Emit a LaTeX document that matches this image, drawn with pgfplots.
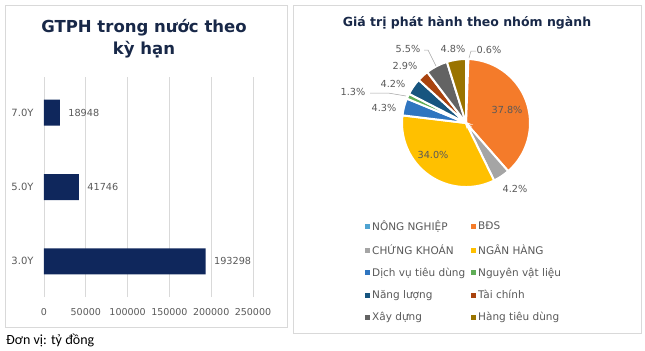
\documentclass[border=0pt]{standalone}
\usepackage{pgfplots}
\pgfplotsset{compat=1.18}
\usepackage{fontspec}
\setmainfont{DejaVu Sans}
\newfontfamily\carlito{Carlito}
\definecolor{titlec}{RGB}{24,40,72}
\definecolor{barc}{RGB}{15,39,92}
\definecolor{txtgray}{RGB}{89,89,89}
\definecolor{gridc}{RGB}{217,217,217}
\definecolor{cNN}{RGB}{79,163,209}
\definecolor{cBDS}{RGB}{244,123,42}
\definecolor{cCK}{RGB}{165,165,165}
\definecolor{cNH}{RGB}{255,192,0}
\definecolor{cDV}{RGB}{47,117,192}
\definecolor{cNVL}{RGB}{95,173,86}
\definecolor{cNL}{RGB}{23,85,127}
\definecolor{cTC}{RGB}{169,67,14}
\definecolor{cXD}{RGB}{99,99,99}
\definecolor{cHTD}{RGB}{154,116,0}
\begin{document}
\begin{tikzpicture}
\path[use as bounding box] (0,0) rectangle (645bp,-351bp);
\draw[gridc, line width=0.8bp] (5bp,-5bp) rectangle (287bp,-327bp);
\draw[gridc, line width=0.8bp] (293bp,-5bp) rectangle (641bp,-333bp);
\node[font=\bfseries\fontsize{16.5bp}{22bp}\selectfont, text=titlec, align=center] at (144bp,-39bp) {GTPH trong nước theo\\kỳ hạn};
\node[font=\carlito\fontsize{14bp}{16bp}\selectfont, anchor=west, inner sep=0pt] at (6bp,-340bp) {Đơn vị: tỷ đồng};
\node[font=\bfseries\fontsize{12.5bp}{15bp}\selectfont, text=titlec] at (467bp,-23bp) {Giá trị phát hành theo nhóm ngành};

\begin{axis}[
  at={(44bp,-297bp)}, anchor=south west, scale only axis,
  width=209bp, height=220bp,
  xbar, bar width=26bp,
  xmin=0, xmax=250000, ymin=-0.48, ymax=2.48,
  xtick={0,50000,100000,150000,200000,250000},
  ytick={0,1,2}, yticklabels={3.0Y,5.0Y,7.0Y},
  scaled x ticks=false,
  /pgf/number format/fixed, /pgf/number format/1000 sep={},
  /pgf/number format/assume math mode=true,
  xmajorgrids, grid style={gridc, line width=0.8bp},
  axis line style={draw=none}, major tick length=0pt,
  tick label style={text=txtgray, font=\fontsize{9.5bp}{11bp}\selectfont},
  xticklabel style={yshift=-8bp},
  yticklabel style={xshift=-7bp, font=\fontsize{10bp}{11bp}\selectfont},
  nodes near coords,
  nodes near coords style={text=txtgray, font=\fontsize{9.7bp}{11bp}\selectfont, xshift=5bp},
  point meta=x,
]
\addplot[fill=barc, draw=none] coordinates {(193298,0) (41746,1) (18948,2)};
\end{axis}

\begin{axis}[
  at={(293bp,-333bp)}, anchor=south west, x=1bp, y=1bp,
  xmin=-173, xmax=175, ymin=-210, ymax=118,
  hide axis, clip=false,
  legend columns=2,
  legend style={at={(axis cs:-101,-96)}, anchor=north west, draw=none, fill=none,
    font=\fontsize{10.5bp}{12bp}\selectfont, text=txtgray, row sep=8.2bp,
    inner sep=0pt, cells={anchor=west},
    /tikz/every even column/.append style={column sep=3bp}},
  legend image code/.code={\fill (0bp,-2.5bp) rectangle (5bp,2.5bp);},
]
\addlegendimage{fill=cNN, draw=none}\addlegendentry{\makebox[94bp][l]{NÔNG NGHIỆP}}
\addlegendimage{fill=cBDS, draw=none}\addlegendentry{BĐS}
\addlegendimage{fill=cCK, draw=none}\addlegendentry{\makebox[94bp][l]{CHỨNG KHOÁN}}
\addlegendimage{fill=cNH, draw=none}\addlegendentry{NGÂN HÀNG}
\addlegendimage{fill=cDV, draw=none}\addlegendentry{\makebox[94bp][l]{Dịch vụ tiêu dùng}}
\addlegendimage{fill=cNVL, draw=none}\addlegendentry{Nguyên vật liệu}
\addlegendimage{fill=cNL, draw=none}\addlegendentry{\makebox[94bp][l]{Năng lượng}}
\addlegendimage{fill=cTC, draw=none}\addlegendentry{Tài chính}
\addlegendimage{fill=cXD, draw=none}\addlegendentry{\makebox[94bp][l]{Xây dựng}}
\addlegendimage{fill=cHTD, draw=none}\addlegendentry{Hàng tiêu dùng}
\pgfplotsextra{
  \gdef\pieS{90}
  \foreach \v/\c in {0.6/cNN, 37.8/cBDS, 4.2/cCK, 34.0/cNH, 4.3/cDV, 1.3/cNVL, 4.2/cNL, 2.9/cTC, 5.5/cXD, 4.8/cHTD}{
    \pgfmathsetmacro{\pieE}{\pieS-\v*360/99.6}
    \filldraw[fill=\c, draw=white, line width=2bp] (axis cs:0,0) -- ++(\pieS:64bp) arc[start angle=\pieS, end angle=\pieE, radius=64bp] -- cycle;
    \xdef\pieS{\pieE}
  }
  \begin{scope}[font=\fontsize{9.7bp}{11bp}\selectfont, text=txtgray]
    \node at (axis cs:41,13) {37.8\%};
    \node at (axis cs:-33,-32) {34.0\%};
    \node at (axis cs:49,-66) {4.2\%};
    \node at (axis cs:-82,15) {4.3\%};
    \node at (axis cs:-113,31) {1.3\%};
    \node at (axis cs:-73,39) {4.2\%};
    \node at (axis cs:-61,57) {2.9\%};
    \node at (axis cs:-58,74) {5.5\%};
    \node at (axis cs:-13,74) {4.8\%};
    \node at (axis cs:23,73) {0.6\%};
  \end{scope}
  \draw[cCK, line width=0.5bp] (axis cs:-96,30) -- (axis cs:-78,30) -- (axis cs:-60,27);
  \draw[cCK, line width=0.5bp] (axis cs:-42,73) -- (axis cs:-38,73) -- (axis cs:-30,57);
  \draw[cCK, line width=0.5bp] (axis cs:10,72) -- (axis cs:5,72) -- (axis cs:3,65);
}
\end{axis}
\end{tikzpicture}
\end{document}
